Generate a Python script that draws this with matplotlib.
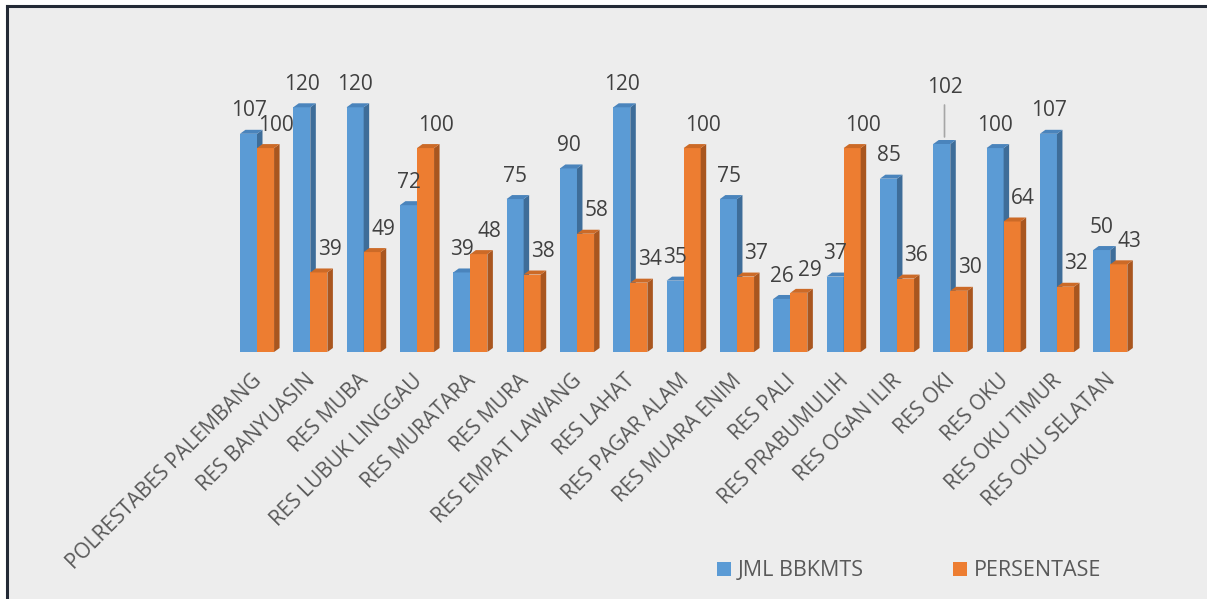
import matplotlib
matplotlib.use("Agg")
import matplotlib.pyplot as plt
from matplotlib.patches import Polygon, Rectangle
from matplotlib.lines import Line2D
import matplotlib.transforms as mtransforms
import numpy as np

categories = ["POLRESTABES PALEMBANG", "RES BANYUASIN", "RES MUBA", "RES LUBUK LINGGAU",
              "RES MURATARA", "RES MURA", "RES EMPAT LAWANG", "RES LAHAT", "RES PAGAR ALAM",
              "RES MUARA ENIM", "RES PALI", "RES PRABUMULIH", "RES OGAN ILIR", "RES OKI",
              "RES OKU", "RES OKU TIMUR", "RES OKU SELATAN"]
jml_bbkmts = [107, 120, 120, 72, 39, 75, 90, 120, 35, 75, 26, 37, 85, 102, 100, 107, 50]
persentase = [100, 39, 49, 100, 48, 38, 58, 34, 100, 37, 29, 100, 36, 30, 64, 32, 43]
series_names = ["JML BBKMTS", "PERSENTASE"]

FONT = "Open Sans"
plt.rcParams["font.family"] = [FONT, "DejaVu Sans"]

W, H = 1207, 599
fig = plt.figure(figsize=(W / 100, H / 100), dpi=100, facecolor="#EDEDED")

# frame (white margin + dark border on top/left)
fig.patches.append(Rectangle((0, 1 - 5 / H), 1, 5 / H, transform=fig.transFigure,
                             facecolor="white", edgecolor="none", zorder=0))
fig.patches.append(Rectangle((0, 0), 6 / W, 1, transform=fig.transFigure,
                             facecolor="white", edgecolor="none", zorder=0))
fig.lines.append(Line2D([7 / W, 1], [1 - 6 / H, 1 - 6 / H], transform=fig.transFigure,
                        color="#232A36", lw=2.2))
fig.lines.append(Line2D([7 / W, 7 / W], [0, 1 - 6 / H], transform=fig.transFigure,
                        color="#232A36", lw=2.2))

n = len(categories)
px_per_unit_x = 53.33
left_px = 257 - 0.5 * px_per_unit_x
right_px = 257 + (n - 0.5) * px_per_unit_x
base_px, top_px = 352, 40
ymax = 153
ax = fig.add_axes([left_px / W, 1 - base_px / H, (right_px - left_px) / W, (base_px - top_px) / H])
ax.set_xlim(-0.5, n - 0.5)
ax.set_ylim(0, ymax)
ax.set_facecolor("none")
for s in ax.spines.values():
    s.set_visible(False)
ax.set_yticks([])
ax.tick_params(axis="x", length=0, pad=13)

px_per_unit_y = (base_px - top_px) / ymax
dx = 5.5 / px_per_unit_x
dy = 4.0 / px_per_unit_y
bw = 0.32

colors = [("#5B9BD5", "#3E6D99", "#4A84BC"), ("#ED7D31", "#A9561F", "#CC6A27")]
offsets = [-bw / 2, bw / 2]
x = np.arange(n)

for si, vals in enumerate([jml_bbkmts, persentase]):
    front, side, top = colors[si]
    for i, v in enumerate(vals):
        x0 = x[i] + offsets[si] - bw / 2
        x1 = x0 + bw
        z = 2 + si * 2 + i * 0.001
        ax.bar(x0, v, width=bw, align="edge", color=front, edgecolor="none", zorder=z,
               label=series_names[si] if i == 0 else None)
        ax.add_patch(Polygon([(x1, 0), (x1 + dx, dy), (x1 + dx, v + dy), (x1, v)],
                             closed=True, facecolor=side, edgecolor="none", zorder=z))
        ax.add_patch(Polygon([(x0, v), (x1, v), (x1 + dx, v + dy), (x0 + dx, v + dy)],
                             closed=True, facecolor=top, edgecolor="none", zorder=z))

label_color = "#404040"
LFS = 15
for i in range(n):
    xb = x[i] + offsets[0] + dx / 2
    if categories[i] == "RES OKI":
        ax.annotate(str(jml_bbkmts[i]), xy=(xb, jml_bbkmts[i] + dy + 1.5),
                    xytext=(0, 28), textcoords="offset points", ha="center", va="bottom",
                    fontsize=LFS, color=label_color,
                    arrowprops=dict(arrowstyle="-", color="#A6A6A6", lw=1.2,
                                    shrinkA=3, shrinkB=0))
    else:
        ax.annotate(str(jml_bbkmts[i]), xy=(xb - 0.05, jml_bbkmts[i] + dy),
                    xytext=(0, 6), textcoords="offset points", ha="center", va="bottom",
                    fontsize=LFS, color=label_color, zorder=10)
    xo = x[i] + offsets[1] + dx / 2 + 0.15
    ax.annotate(str(persentase[i]), xy=(xo, persentase[i] + dy),
                xytext=(0, 6), textcoords="offset points", ha="center", va="bottom",
                fontsize=LFS, color=label_color, zorder=10)

ax.set_xticks(x)
ax.set_xticklabels(categories, rotation=45, ha="right", va="top", rotation_mode="anchor",
                   fontsize=15, color="#595959")
shift = mtransforms.ScaledTranslation(-4 / 72, 0, fig.dpi_scale_trans)
for lbl in ax.get_xticklabels():
    lbl.set_transform(lbl.get_transform() + shift)

# legend
handles = [Rectangle((0, 0), 1, 1, facecolor=c[0]) for c in colors]
fig.legend(handles, series_names, loc="center", bbox_to_anchor=(909 / W, 1 - 571 / H),
           ncol=2, frameon=False, fontsize=15.5, labelcolor="#595959",
           handlelength=0.65, handleheight=0.65, handletextpad=0.3, columnspacing=4.15)

fig.savefig("out.png", dpi=100, facecolor=fig.get_facecolor())
